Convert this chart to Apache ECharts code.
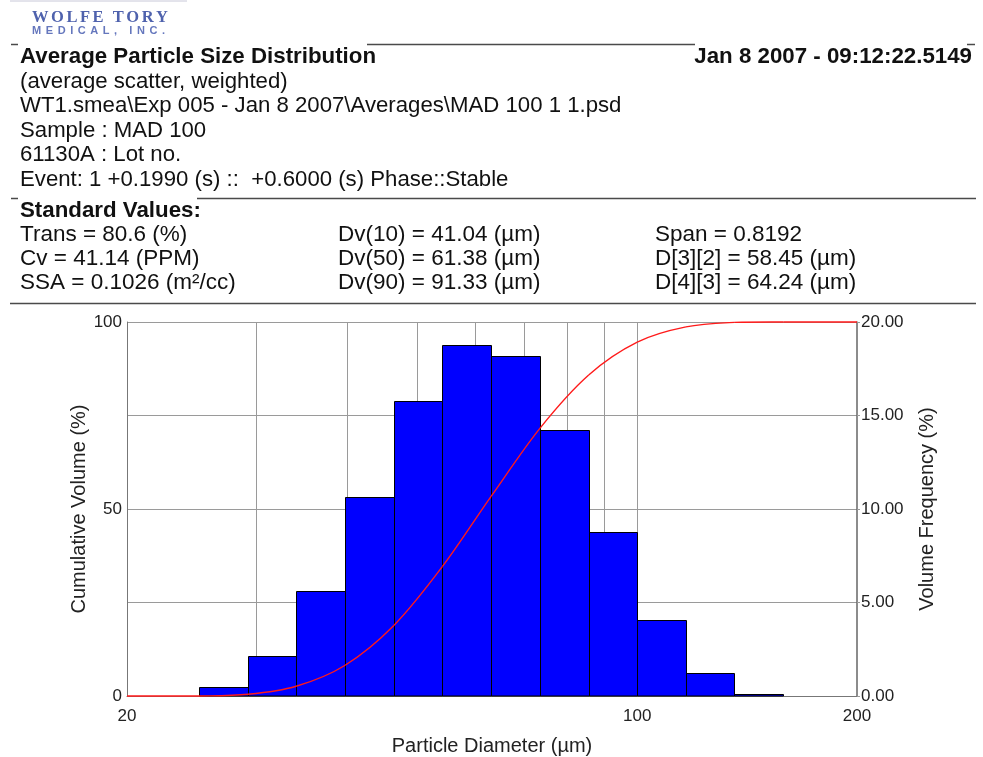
<!DOCTYPE html>
<html><head><meta charset="utf-8">
<script src="https://cdn.jsdelivr.net/npm/echarts@6/dist/echarts.min.js"></script>
<style>html,body{margin:0;padding:0;background:#fff}#c{width:983px;height:757px}</style>
</head><body><div id="c"></div>
<script>
// ---- data ----
const binEdges = [25.1, 29.3, 34.1, 39.8, 46.4, 54.1, 63.1, 73.6, 85.8, 100, 116.6, 135.9, 158.5];
const volumeFrequency = [0.46, 2.15, 5.62, 10.63, 15.79, 18.79, 18.19, 14.20, 8.78, 4.07, 1.23, 0.12];
const cumDiameters = [20, 25.1, 29.3, 34.1, 39.8, 46.4, 54.1, 63.1, 73.6, 85.8, 100, 116.6, 135.9, 158.5, 200];
const cumulativeVolume = [0, 0, 0.46, 2.61, 8.23, 18.86, 34.65, 53.44, 71.63, 85.83, 94.61, 98.68, 99.91, 100, 100];
const xGridValues = [30, 40, 50, 60, 70, 80, 90, 100];
const xTickLabels = [20, 100, 200];
const leftTickLabels = [0, 50, 100];
const rightTickLabels = [0, 5, 10, 15, 20];
const titleText = 'Average Particle Size Distribution';
const dateText = 'Jan 8 2007 - 09:12:22.5149';
const headerLines = [
  '(average scatter, weighted)',
  'WT1.smea\\Exp 005 - Jan 8 2007\\Averages\\MAD 100 1 1.psd',
  'Sample : MAD 100',
  '61130A : Lot no.',
  'Event: 1 +0.1990 (s) ::  +0.6000 (s) Phase::Stable'
];
const stdTitle = 'Standard Values:';
const stdCol1 = ['Trans = 80.6 (%)', 'Cv = 41.14 (PPM)', 'SSA = 0.1026 (m\u00b2/cc)'];
const stdCol2 = ['Dv(10) = 41.04 (\u00b5m)', 'Dv(50) = 61.38 (\u00b5m)', 'Dv(90) = 91.33 (\u00b5m)'];
const stdCol3 = ['Span = 0.8192', 'D[3][2] = 58.45 (\u00b5m)', 'D[4][3] = 64.24 (\u00b5m)'];
const logoLine1 = 'WOLFE TORY';
const logoLine2 = 'MEDICAL, INC.';

// ---- build ----
const FONT = '"Liberation Sans", Arial, Helvetica, sans-serif';
const chart = echarts.init(document.getElementById('c'), null, {renderer: 'canvas'});

const barData = volumeFrequency.map((v, i) => [binEdges[i], binEdges[i + 1], v]);

const mctx = document.createElement('canvas').getContext('2d');
function spacedText(str, x, y, width, font, fill) {
  mctx.font = font;
  const chars = str.split('');
  const ws = chars.map(c => mctx.measureText(c).width);
  const total = ws.reduce((a, b) => a + b, 0);
  const gap = (width - total) / (chars.length - 1);
  const out = [];
  let cx = x;
  chars.forEach((c, i) => {
    out.push({type: 'text', x: cx, y: y, silent: true,
      style: {text: c, font: font, fill: fill, textVerticalAlign: 'middle'}});
    cx += ws[i] + gap;
  });
  return out;
}

function txt(t, x, y, opts) {
  opts = opts || {};
  return {type: 'text', x: x, y: y, silent: true,
    style: {text: t, fill: opts.fill || '#111', textAlign: opts.align || 'left', textVerticalAlign: 'middle',
      font: (opts.bold ? 'bold ' : '') + (opts.size || 22.5) + 'px ' + FONT}};
}
function hline(x1, x2, y, color, w) {
  return {type: 'line', silent: true, shape: {x1: x1, y1: y, x2: x2, y2: y},
    style: {stroke: color || '#4a4a4a', lineWidth: w || 1.5}};
}

const graphics = [];
graphics.push(hline(10, 187, 1, '#c8c8d8', 1));
graphics.push(...spacedText(logoLine1, 32, 18, 136, 'bold 16.5px "Liberation Serif", "Times New Roman", serif', '#4f62ad'));
graphics.push(...spacedText(logoLine2, 32, 30.5, 133, 'bold 11px ' + FONT, '#6577bd'));
graphics.push(hline(11, 18, 44.5), hline(367, 695, 44.5), hline(967, 975, 44.5));
graphics.push(txt(titleText, 20, 57, {bold: true, size: 22.3}));
graphics.push(txt(dateText, 972, 57, {bold: true, align: 'right', size: 22.3}));
headerLines.forEach((t, i) => graphics.push(txt(t, 20, 81.5 + i * 24.6, {size: 22.2})));
graphics.push(hline(11, 18, 198.5), hline(197, 976, 198.5));
graphics.push(txt(stdTitle, 20, 211, {bold: true, size: 22.3}));
[stdCol1, stdCol2, stdCol3].forEach((col, c) => {
  const x = [20, 338, 655][c];
  col.forEach((t, i) => graphics.push(txt(t, x, 234.5 + i * 24, {})));
});
graphics.push(hline(10, 976, 303.5));

const option = {
  animation: false,
  backgroundColor: '#ffffff',
  grid: {left: 127, right: 126, top: 322, bottom: 60, show: false},
  graphic: {elements: graphics},
  xAxis: {
    type: 'log', logBase: 10, min: 20, max: 200,
    name: 'Particle Diameter (\u00b5m)', nameLocation: 'middle', nameGap: 40,
    nameTextStyle: {fontFamily: FONT, fontSize: 20, color: '#222'},
    axisLine: {show: true, lineStyle: {color: '#777', width: 1}},
    axisTick: {show: false},
    splitLine: {show: false},
    axisLabel: {fontFamily: FONT, fontSize: 17, color: '#222', margin: 12,
      formatter: v => xTickLabels.some(t => Math.abs(t - v) < 1e-6 * t) ? String(Math.round(v)) : '',
      showMinLabel: true, showMaxLabel: true}
  },
  yAxis: [{
    type: 'value', min: 0, max: 100, interval: 25, position: 'left',
    name: 'Cumulative Volume (%)', nameLocation: 'middle', nameGap: 38, nameRotate: 90,
    nameMoveOverlap: false,
    nameTextStyle: {fontFamily: FONT, fontSize: 20, color: '#222'},
    axisLine: {show: true, lineStyle: {color: '#777', width: 1}},
    axisTick: {show: false},
    splitLine: {show: true, lineStyle: {color: '#9a9a9a', width: 1}},
    axisLabel: {fontFamily: FONT, fontSize: 17, color: '#222', margin: 5,
      formatter: v => leftTickLabels.indexOf(v) >= 0 ? String(v) : ''}
  }, {
    type: 'value', min: 0, max: 20, interval: 5, position: 'right',
    name: 'Volume Frequency (%)', nameLocation: 'middle', nameGap: 60, nameRotate: 90,
    nameTextStyle: {fontFamily: FONT, fontSize: 20, color: '#222'},
    axisLine: {show: true, lineStyle: {color: '#666', width: 1.5}},
    axisTick: {show: true, length: 3, lineStyle: {color: '#9a9a9a'}},
    splitLine: {show: false},
    axisLabel: {fontFamily: FONT, fontSize: 17, color: '#222', margin: 4,
      formatter: v => rightTickLabels.indexOf(v) >= 0 ? v.toFixed(2) : ''}
  }],
  series: [{
    type: 'custom', name: 'grid', yAxisIndex: 0, z: 1, silent: true,
    data: xGridValues.map(v => [v, 0]),
    encode: {x: 0, y: 1},
    renderItem: (params, api) => {
      const p0 = api.coord([api.value(0), 0]);
      const p1 = api.coord([api.value(0), 100]);
      const x = Math.round(p0[0]) + 0.5;
      return {type: 'line', shape: {x1: x, y1: p0[1], x2: x, y2: p1[1]},
        style: {stroke: '#9a9a9a', lineWidth: 1}};
    }
  }, {
    type: 'custom', name: 'Volume Frequency', yAxisIndex: 1, z: 2,
    data: barData,
    encode: {x: [0, 1], y: 2},
    renderItem: (params, api) => {
      const p0 = api.coord([api.value(0), api.value(2)]);
      const p1 = api.coord([api.value(1), 0]);
      const x0 = Math.round(p0[0]) + 0.5, x1 = Math.round(p1[0]) + 0.5;
      const y0 = Math.round(p0[1]) + 0.5, y1 = Math.round(p1[1]);
      return {type: 'rect', shape: {x: x0, y: y0, width: x1 - x0, height: y1 - y0},
        style: {fill: '#0000ff', stroke: '#000000', lineWidth: 1}};
    }
  }, {
    type: 'custom', name: 'Cumulative Volume', yAxisIndex: 0, z: 3, silent: true,
    data: [[cumDiameters[0], cumulativeVolume[0]]],
    encode: {x: 0, y: 1},
    renderItem: (params, api) => {
      const pts = cumDiameters.map((d, i) => api.coord([d, cumulativeVolume[i]]));
      const top = api.coord([20, 100])[1], bot = api.coord([20, 0])[1];
      const cl = y => Math.min(bot, Math.max(top, y));
      const n = pts.length;
      const children = [];
      for (let i = 0; i < n - 1; i++) {
        const p0 = pts[Math.max(0, i - 1)], p1 = pts[i], p2 = pts[i + 1], p3 = pts[Math.min(n - 1, i + 2)];
        children.push({type: 'bezierCurve', shape: {
          x1: p1[0], y1: p1[1], x2: p2[0], y2: p2[1],
          cpx1: p1[0] + (p2[0] - p0[0]) / 6, cpy1: cl(p1[1] + (p2[1] - p0[1]) / 6),
          cpx2: p2[0] - (p3[0] - p1[0]) / 6, cpy2: cl(p2[1] - (p3[1] - p1[1]) / 6)},
          style: {stroke: '#ff1a1a', lineWidth: 1.4, fill: null}});
      }
      return {type: 'group', children: children};
    }
  }]
};
chart.setOption(option);
</script>
</body></html>
